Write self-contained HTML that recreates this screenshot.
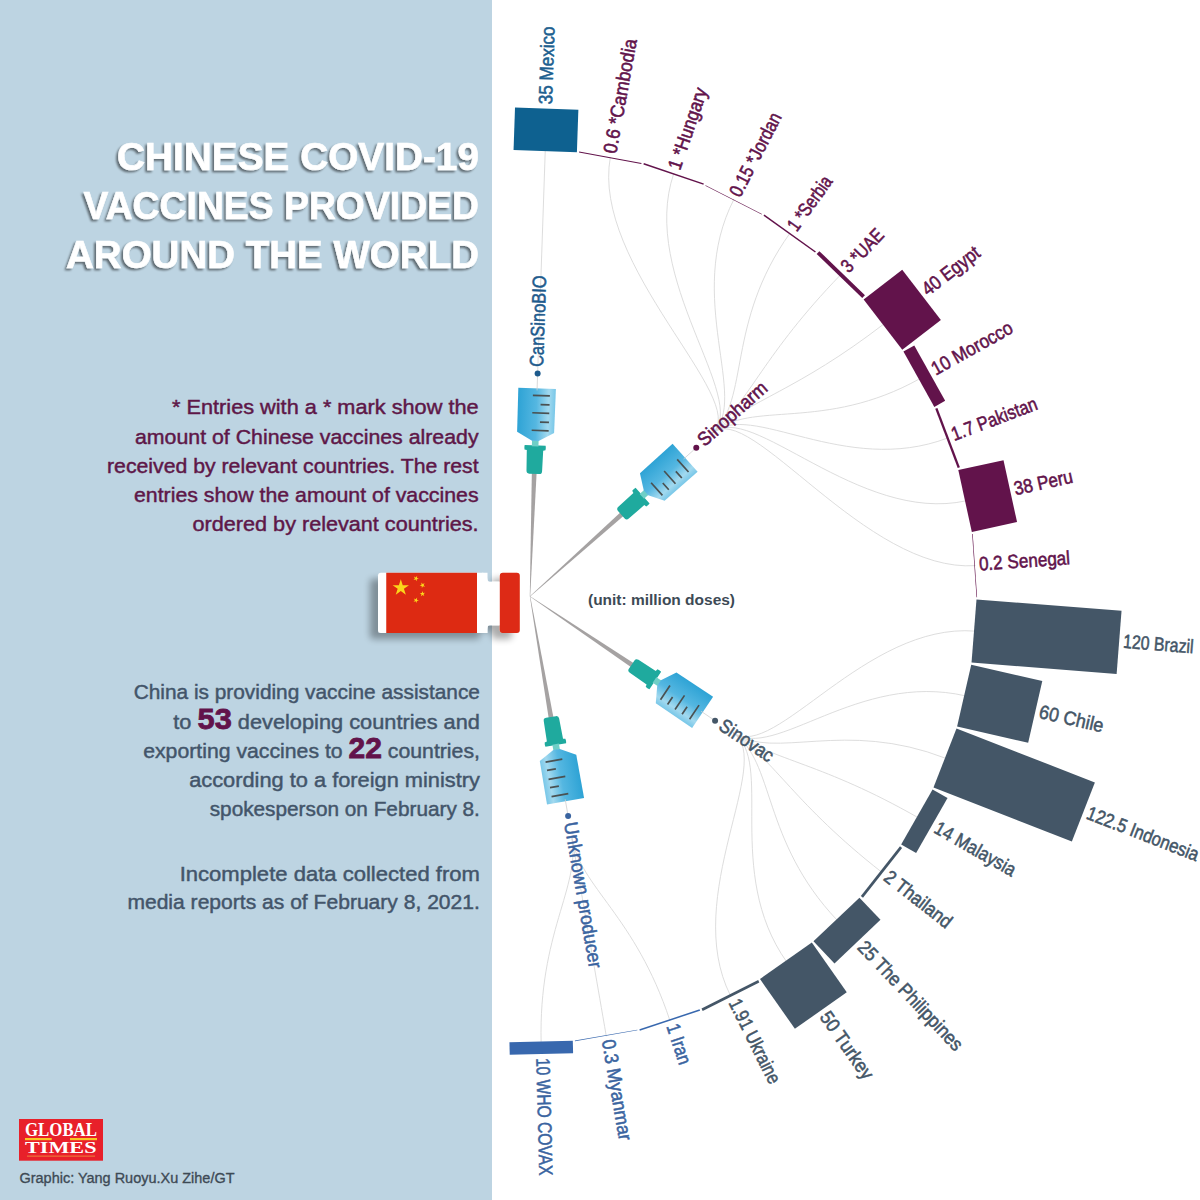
<!DOCTYPE html>
<html><head><meta charset="utf-8">
<style>
html,body{margin:0;padding:0;width:1200px;height:1200px;overflow:hidden;background:#fff}
svg{display:block}
.lb{font-family:"Liberation Sans",sans-serif;font-size:19.3px;stroke-width:0.55px}
.tt{font-family:"Liberation Sans",sans-serif;font-weight:bold;font-size:38px;fill:#fff;stroke:#fff;stroke-width:0.6px}
.p1{font-family:"Liberation Sans",sans-serif;font-size:20.5px;fill:#5e1748;stroke:#5e1748;stroke-width:0.45px}
.p2{font-family:"Liberation Sans",sans-serif;font-size:20.5px;fill:#43556a;stroke:#43556a;stroke-width:0.45px}
</style></head><body>
<svg width="1200" height="1200" viewBox="0 0 1200 1200">
<defs>
<linearGradient id="bg1" x1="0" y1="0" x2="1" y2="0">
<stop offset="0" stop-color="#2ea3d5"/><stop offset="0.5" stop-color="#55b7e1"/><stop offset="0.82" stop-color="#a2d9ef"/><stop offset="1" stop-color="#78c7e8"/>
</linearGradient>
<filter id="tsh" x="-5%" y="-20%" width="110%" height="140%"><feGaussianBlur in="SourceAlpha" stdDeviation="1.3"/><feOffset dx="-2.2" dy="2"/><feComponentTransfer><feFuncA type="linear" slope="0.5"/></feComponentTransfer><feMerge><feMergeNode/><feMergeNode in="SourceGraphic"/></feMerge></filter>
<filter id="fsh" x="-20%" y="-20%" width="140%" height="150%"><feGaussianBlur in="SourceAlpha" stdDeviation="3.8"/><feOffset dx="-8" dy="6"/><feComponentTransfer><feFuncA type="linear" slope="0.33"/></feComponentTransfer><feMerge><feMergeNode/><feMergeNode in="SourceGraphic"/></feMerge></filter>
<g id="syr">
<path d="M-0.2 0L0.2 0L2.4 -124L-2.4 -124Z" fill="#a5a2a2"/>
<path d="M-5 -122.5Q-7.8 -122.5 -7.8 -125.5L-8.2 -146L-10.5 -146.5Q-11 -148.5 -10.5 -151L10.5 -151Q11 -148.5 10.5 -146.5L8.2 -146L7.8 -125.5Q7.8 -122.5 5 -122.5Z" fill="#1faa9e"/>
<rect x="-3.3" y="-156" width="6.6" height="6" fill="#6fcfc7"/>
<path d="M-3.3 -155.5L-18.5 -164L-18.8 -208L18.8 -208L18.5 -164L3.3 -155.5Z" fill="url(#bg1)"/>
<g stroke="#4a5152" stroke-width="1.7">
<path d="M-4 -201H13M4 -192H13M-4 -183.5H13M4 -174.5H13M-4 -166H13"/>
</g>
</g>
</defs>
<rect x="0" y="0" width="492" height="1200" fill="#bdd4e2"/>
<g filter="url(#tsh)">
<text class="tt" x="479" y="170" text-anchor="end" textLength="362" lengthAdjust="spacingAndGlyphs">CHINESE COVID-19</text>
<text class="tt" x="479" y="218.8" text-anchor="end" textLength="395.5" lengthAdjust="spacingAndGlyphs">VACCINES PROVIDED</text>
<text class="tt" x="479" y="268.2" text-anchor="end" textLength="413" lengthAdjust="spacingAndGlyphs">AROUND THE WORLD</text>
</g>
<text class="p1" x="478.6" y="414.4" text-anchor="end" textLength="306.6" lengthAdjust="spacingAndGlyphs">* Entries with a * mark show the</text>
<text class="p1" x="478.6" y="443.6" text-anchor="end" textLength="343.6" lengthAdjust="spacingAndGlyphs">amount of Chinese vaccines already</text>
<text class="p1" x="478.6" y="472.8" text-anchor="end" textLength="371.6" lengthAdjust="spacingAndGlyphs">received by relevant countries. The rest</text>
<text class="p1" x="478.6" y="502" text-anchor="end" textLength="344.6" lengthAdjust="spacingAndGlyphs">entries show the amount of vaccines</text>
<text class="p1" x="478.6" y="531.2" text-anchor="end" textLength="286" lengthAdjust="spacingAndGlyphs">ordered by relevant countries.</text>

<text class="p2" x="479.9" y="699.1" text-anchor="end" textLength="346.2" lengthAdjust="spacingAndGlyphs">China is providing vaccine assistance</text>
<text class="p2" x="479.9" y="728.6" text-anchor="end" textLength="306.6" lengthAdjust="spacingAndGlyphs">to <tspan font-weight="bold" font-size="29" fill="#62134b" stroke="#62134b" stroke-width="0.8">53</tspan> developing countries and</text>
<text class="p2" x="479.9" y="758" text-anchor="end" textLength="336.7" lengthAdjust="spacingAndGlyphs">exporting vaccines to <tspan font-weight="bold" font-size="29" fill="#62134b" stroke="#62134b" stroke-width="0.8">22</tspan> countries,</text>
<text class="p2" x="479.9" y="787.2" text-anchor="end" textLength="290.7" lengthAdjust="spacingAndGlyphs">according to a foreign ministry</text>
<text class="p2" x="479.9" y="816.3" text-anchor="end" textLength="270.2" lengthAdjust="spacingAndGlyphs">spokesperson on February 8.</text>
<text class="p2" x="479.9" y="880.6" text-anchor="end" textLength="300.2" lengthAdjust="spacingAndGlyphs">Incomplete data collected from</text>
<text class="p2" x="479.9" y="909" text-anchor="end" textLength="352.5" lengthAdjust="spacingAndGlyphs">media reports as of February 8, 2021.</text>

<rect x="19" y="1119" width="84" height="41.7" fill="#e8202a"/>
<text x="25" y="1136.3" font-family="Liberation Serif" font-weight="bold" font-size="19" fill="#fff" textLength="72" lengthAdjust="spacingAndGlyphs">GLOBAL</text>
<rect x="25" y="1138" width="26.7" height="2.2" fill="#f9c623"/>
<rect x="70" y="1138" width="27" height="2.2" fill="#f9c623"/>
<text x="25" y="1153.4" font-family="Liberation Serif" font-weight="bold" font-size="17" fill="#fff" textLength="71.5" lengthAdjust="spacingAndGlyphs">TIMES</text>
<rect x="27" y="1155.5" width="68" height="1.3" fill="#f0a040" opacity="0.6"/>
<text x="19.5" y="1183.4" font-family="Liberation Sans" font-size="15.5" fill="#3d4a55" stroke="#3d4a55" stroke-width="0.35" textLength="215" lengthAdjust="spacingAndGlyphs">Graphic: Yang Ruoyu.Xu Zihe/GT</text>

<g filter="url(#fsh)">
<path d="M381 572.75H487.5V633H381Q378 633 378 630V575.75Q378 572.75 381 572.75Z" fill="#fff"/>
<path d="M482 572.75Q486.5 572.75 487 577.5Q487.3 581.75 490 581.75H500V625.25H490Q487.3 625.25 487 629.5Q486.5 633 482 633Z" fill="#fff"/>
<rect x="499.8" y="572.75" width="20" height="60.25" rx="3" fill="#dd2a12"/>
</g>
<rect x="386.25" y="572.75" width="90.75" height="60.25" fill="#dd2a12"/>
<g fill="#fbd51b">
<path d="M0 -1L0.2245 -0.309L0.951 -0.309L0.363 0.118L0.588 0.809L0 0.382L-0.588 0.809L-0.363 0.118L-0.951 -0.309L-0.2245 -0.309Z" transform="translate(400.8 587.8) scale(8.6)"/>
<path d="M0 -1L0.2245 -0.309L0.951 -0.309L0.363 0.118L0.588 0.809L0 0.382L-0.588 0.809L-0.363 0.118L-0.951 -0.309L-0.2245 -0.309Z" transform="translate(416 578.5) rotate(239.4) scale(2.9)"/>
<path d="M0 -1L0.2245 -0.309L0.951 -0.309L0.363 0.118L0.588 0.809L0 0.382L-0.588 0.809L-0.363 0.118L-0.951 -0.309L-0.2245 -0.309Z" transform="translate(422.5 585.2) rotate(263.9) scale(2.9)"/>
<path d="M0 -1L0.2245 -0.309L0.951 -0.309L0.363 0.118L0.588 0.809L0 0.382L-0.588 0.809L-0.363 0.118L-0.951 -0.309L-0.2245 -0.309Z" transform="translate(422.5 593.8) rotate(-73.8) scale(2.9)"/>
<path d="M0 -1L0.2245 -0.309L0.951 -0.309L0.363 0.118L0.588 0.809L0 0.382L-0.588 0.809L-0.363 0.118L-0.951 -0.309L-0.2245 -0.309Z" transform="translate(416 600.3) rotate(-49.9) scale(2.9)"/>
</g>
<text x="588" y="605" font-family="Liberation Sans" font-weight="bold" font-size="14" fill="#3d4a55" textLength="147" lengthAdjust="spacingAndGlyphs">(unit: million doses)</text>
<g fill="none" stroke="#d9d9d9" stroke-width="0.9">
<path d="M537.63 373.43L545.27 150.06"/>
<path d="M712.68 433.05C749.97 399.73 590.57 265.3 610.37 157.09"/>
<path d="M712.68 433.05C749.97 399.73 638.33 277.71 673.74 173.57"/>
<path d="M712.68 433.05C749.97 399.73 683.76 296.98 734.02 199.14"/>
<path d="M712.68 433.05C749.97 399.73 725.88 322.69 789.92 233.25"/>
<path d="M712.68 433.05C749.97 399.73 763.79 354.28 840.22 275.17"/>
<path d="M712.68 433.05C749.97 399.73 796.68 391.08 883.85 323.99"/>
<path d="M712.68 433.05C749.97 399.73 823.82 432.29 919.87 378.67"/>
<path d="M712.68 433.05C749.97 399.73 844.65 477.03 947.51 438.04"/>
<path d="M712.68 433.05C749.97 399.73 858.71 524.33 966.17 500.8"/>
<path d="M712.68 433.05C749.97 399.73 865.7 573.18 975.44 565.62"/>
<path d="M733.34 732.97C774.84 760.86 865.48 622.53 975.14 631.1"/>
<path d="M733.34 732.97C774.84 760.86 858.03 671.31 965.27 695.83"/>
<path d="M733.34 732.97C774.84 760.86 843.54 718.48 946.03 758.42"/>
<path d="M733.34 732.97C774.84 760.86 822.29 763.02 917.84 817.52"/>
<path d="M733.34 732.97C774.84 760.86 794.77 803.98 881.32 871.87"/>
<path d="M733.34 732.97C774.84 760.86 761.55 840.47 837.24 920.29"/>
<path d="M733.34 732.97C774.84 760.86 723.35 871.71 786.55 961.74"/>
<path d="M733.34 732.97C774.84 760.86 680.99 897.02 730.34 995.33"/>
<path d="M571.87 837.7C580.41 886.96 635.38 915.87 669.83 1020.34"/>
<path d="M571.87 837.7C580.41 886.96 587.51 927.85 606.31 1036.23"/>
<path d="M571.87 837.7C580.41 886.96 538.4 932.7 541.14 1042.66"/>
</g>
<path fill="#0e6190" d="M513.56 150.1L576.9 152.27L578.36 109.65L515.02 107.48Z"/>
<path fill="#62134b" d="M579 152.5L641.34 163.91L641.5 163.02L579.16 151.61Z"/>
<path fill="#62134b" d="M643.38 164.43L703.38 184.84L703.87 183.41L643.86 163.01Z"/>
<path fill="#62134b" d="M705.32 185.66L761.7 214.62L761.96 214.12L705.58 185.16Z"/>
<path fill="#62134b" d="M763.49 215.72L815.03 252.61L815.91 251.39L764.37 214.49Z"/>
<path fill="#62134b" d="M816.65 253.96L862.23 298L864.96 295.17L819.38 251.13Z"/>
<path fill="#62134b" d="M863.63 299.57L902.29 349.8L940.88 320.09L902.23 269.87Z"/>
<path fill="#62134b" d="M903.44 351.55L934.34 406.89L945.16 400.85L914.27 345.51Z"/>
<path fill="#62134b" d="M935.22 408.8L957.69 468.07L959.89 467.23L937.43 407.97Z"/>
<path fill="#62134b" d="M958.29 470.09L971.85 532L1017.05 522.1L1003.5 460.19Z"/>
<path fill="#62134b" d="M972.14 534.08L976.5 597.31L977.1 597.27L972.74 534.04Z"/>
<path fill="#445667" d="M976.49 599.42L971.55 662.61L1116.61 673.95L1121.55 610.76Z"/>
<path fill="#445667" d="M971.23 664.69L957.1 726.47L1028.17 742.72L1042.3 680.94Z"/>
<path fill="#445667" d="M956.49 728.48L933.47 787.54L1071.86 841.47L1094.87 782.41Z"/>
<path fill="#445667" d="M932.57 789.44L901.16 844.49L916.14 853.03L947.54 797.98Z"/>
<path fill="#445667" d="M899.99 846.24L860.87 896.11L863.01 897.79L902.13 847.92Z"/>
<path fill="#445667" d="M859.46 897.66L813.47 941.28L834.49 963.44L880.48 919.83Z"/>
<path fill="#445667" d="M811.84 942.61L759.96 979.03L794.9 1028.79L846.77 992.37Z"/>
<path fill="#445667" d="M758.16 980.1L701.52 1008.54L702.69 1010.88L759.33 982.44Z"/>
<path fill="#3868ae" d="M699.57 1009.35L639.38 1029.2L639.85 1030.63L700.04 1010.78Z"/>
<path fill="#3868ae" d="M637.34 1029.71L574.89 1040.54L575 1041.2L637.45 1030.37Z"/>
<path fill="#3868ae" d="M572.8 1040.74L509.43 1042.33L509.74 1054.72L573.1 1053.14Z"/>
<use href="#syr" transform="translate(530 596.3) rotate(1.96)"/>
<path d="M537.05 390.42L537.63 373.43" stroke="#cfcfcf" stroke-width="0.8"/>
<circle cx="537.63" cy="373.43" r="3" fill="#1d5a8c"/>
<use href="#syr" transform="translate(530 596.3) rotate(48.21)"/>
<path d="M683.6 459.03L696.28 447.71" stroke="#cfcfcf" stroke-width="0.8"/>
<circle cx="696.28" cy="447.71" r="3" fill="#62134b"/>
<use href="#syr" transform="translate(530 596.3) rotate(123.91)"/>
<path d="M700.97 711.21L715.08 720.69" stroke="#cfcfcf" stroke-width="0.8"/>
<circle cx="715.08" cy="720.69" r="3" fill="#445667"/>
<use href="#syr" transform="translate(530 596.3) rotate(170.16)"/>
<path d="M565.2 799.27L568.11 816.02" stroke="#cfcfcf" stroke-width="0.8"/>
<circle cx="568.11" cy="816.02" r="3" fill="#3a64a0"/>
<text x="537.85" y="366.93" fill="#1d5a8c" stroke="#1d5a8c" transform="rotate(-88.04 537.85 366.93)" class="lb" dy="0.27em" textLength="91.6" lengthAdjust="spacingAndGlyphs">CanSinoBIO</text>
<text x="701.13" y="443.38" fill="#62134b" stroke="#62134b" transform="rotate(-41.79 701.13 443.38)" class="lb" dy="0.27em" textLength="86.2" lengthAdjust="spacingAndGlyphs">Sinopharm</text>
<text x="720.48" y="724.32" fill="#445667" stroke="#445667" transform="rotate(33.91 720.48 724.32)" class="lb" dy="0.27em" textLength="61.4" lengthAdjust="spacingAndGlyphs">Sinovac</text>
<text x="569.22" y="822.42" fill="#3a64a0" stroke="#3a64a0" transform="rotate(80.16 569.22 822.42)" class="lb" dy="0.27em" textLength="147.9" lengthAdjust="spacingAndGlyphs">Unknown producer</text>
<text x="546.83" y="104.44" fill="#1d5f8f" stroke="#1d5f8f" transform="rotate(-88.04 546.83 104.44)" class="lb" dy="0.27em" textLength="78" lengthAdjust="spacingAndGlyphs">35 Mexico</text>
<text x="611.07" y="153.26" fill="#62134b" stroke="#62134b" transform="rotate(-79.63 611.07 153.26)" class="lb" dy="0.27em" textLength="116" lengthAdjust="spacingAndGlyphs">0.6 *Cambodia</text>
<text x="675.2" y="169.3" fill="#62134b" stroke="#62134b" transform="rotate(-71.22 675.2 169.3)" class="lb" dy="0.27em" textLength="85" lengthAdjust="spacingAndGlyphs">1 *Hungary</text>
<text x="735.65" y="195.97" fill="#62134b" stroke="#62134b" transform="rotate(-62.81 735.65 195.97)" class="lb" dy="0.27em" textLength="91.7" lengthAdjust="spacingAndGlyphs">0.15 *Jordan</text>
<text x="792.54" y="229.58" fill="#62134b" stroke="#62134b" transform="rotate(-54.4 792.54 229.58)" class="lb" dy="0.27em" textLength="62.7" lengthAdjust="spacingAndGlyphs">1 *Serbia</text>
<text x="845.04" y="270.18" fill="#62134b" stroke="#62134b" transform="rotate(-45.99 845.04 270.18)" class="lb" dy="0.27em" textLength="52.5" lengthAdjust="spacingAndGlyphs">3 *UAE</text>
<text x="924.82" y="292.46" fill="#62134b" stroke="#62134b" transform="rotate(-37.58 924.82 292.46)" class="lb" dy="0.27em" textLength="67.5" lengthAdjust="spacingAndGlyphs">40 Egypt</text>
<text x="933.32" y="371.17" fill="#62134b" stroke="#62134b" transform="rotate(-29.17 933.32 371.17)" class="lb" dy="0.27em" textLength="90" lengthAdjust="spacingAndGlyphs">10 Morocco</text>
<text x="952.52" y="436.14" fill="#62134b" stroke="#62134b" transform="rotate(-20.76 952.52 436.14)" class="lb" dy="0.27em" textLength="90.2" lengthAdjust="spacingAndGlyphs">1.7 Pakistan</text>
<text x="1014.31" y="490.26" fill="#62134b" stroke="#62134b" transform="rotate(-12.35 1014.31 490.26)" class="lb" dy="0.27em" textLength="59.9" lengthAdjust="spacingAndGlyphs">38 Peru</text>
<text x="979.04" y="565.37" fill="#62134b" stroke="#62134b" transform="rotate(-3.94 979.04 565.37)" class="lb" dy="0.27em" textLength="91.2" lengthAdjust="spacingAndGlyphs">0.2 Senegal</text>
<text x="1123.19" y="642.67" fill="#445667" stroke="#445667" transform="rotate(4.47 1123.19 642.67)" class="lb" dy="0.27em" textLength="70.5" lengthAdjust="spacingAndGlyphs">120 Brazil</text>
<text x="1039.26" y="712.75" fill="#445667" stroke="#445667" transform="rotate(12.88 1039.26 712.75)" class="lb" dy="0.27em" textLength="65.5" lengthAdjust="spacingAndGlyphs">60 Chile</text>
<text x="1087.21" y="813.44" fill="#445667" stroke="#445667" transform="rotate(21.29 1087.21 813.44)" class="lb" dy="0.27em" textLength="118.7" lengthAdjust="spacingAndGlyphs">122.5 Indonesia</text>
<text x="935.43" y="827.55" fill="#445667" stroke="#445667" transform="rotate(29.7 935.43 827.55)" class="lb" dy="0.27em" textLength="90.4" lengthAdjust="spacingAndGlyphs">14 Malaysia</text>
<text x="885.82" y="875.4" fill="#445667" stroke="#445667" transform="rotate(38.11 885.82 875.4)" class="lb" dy="0.27em" textLength="80.5" lengthAdjust="spacingAndGlyphs">2 Thailand</text>
<text x="860.32" y="944.63" fill="#445667" stroke="#445667" transform="rotate(46.52 860.32 944.63)" class="lb" dy="0.27em" textLength="143.1" lengthAdjust="spacingAndGlyphs">25 The Philippines</text>
<text x="823.21" y="1013.96" fill="#445667" stroke="#445667" transform="rotate(54.93 823.21 1013.96)" class="lb" dy="0.27em" textLength="78.5" lengthAdjust="spacingAndGlyphs">50 Turkey</text>
<text x="732.86" y="1000.34" fill="#445667" stroke="#445667" transform="rotate(63.34 732.86 1000.34)" class="lb" dy="0.27em" textLength="92.5" lengthAdjust="spacingAndGlyphs">1.91 Ukraine</text>
<text x="671.24" y="1024.62" fill="#3a64a0" stroke="#3a64a0" transform="rotate(71.75 671.24 1024.62)" class="lb" dy="0.27em" textLength="41.7" lengthAdjust="spacingAndGlyphs">1 Iran</text>
<text x="606.93" y="1039.85" fill="#3a64a0" stroke="#3a64a0" transform="rotate(80.16 606.93 1039.85)" class="lb" dy="0.27em" textLength="102" lengthAdjust="spacingAndGlyphs">0.3 Myanmar</text>
<text x="541.53" y="1058.06" fill="#3a64a0" stroke="#3a64a0" transform="rotate(88.57 541.53 1058.06)" class="lb" dy="0.27em" textLength="117.5" lengthAdjust="spacingAndGlyphs">10 WHO COVAX</text>
</svg>
</body></html>
